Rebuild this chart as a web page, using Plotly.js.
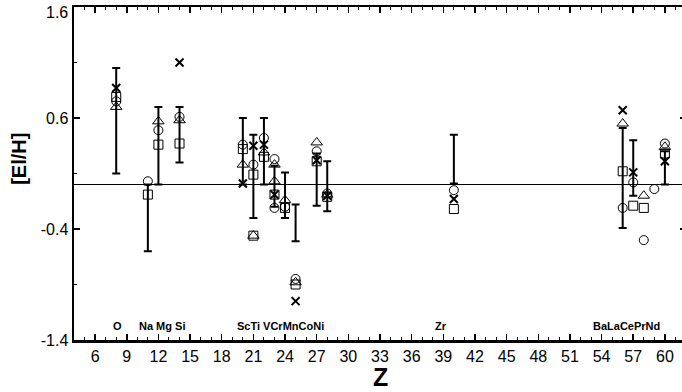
<!DOCTYPE html>
<html>
<head>
<meta charset="utf-8">
<script src="https://cdn.plot.ly/plotly-3.0.1.min.js"></script>
<style>
html,body{margin:0;padding:0;overflow:hidden;background:#fff;}
#chart{width:690px;height:392px;}
</style>
</head>
<body>
<div id="chart"></div>
<script>
// Circles
const circZ   = [8, 11, 12, 14, 20, 21, 22, 23, 23, 24, 25, 27, 28, 40, 56, 57, 58, 59, 60];
const circVal = [0.75, 0.03, 0.49, 0.61, 0.36, 0.18, 0.42, 0.23, -0.21, -0.20, -0.85, 0.30, -0.08, -0.05, -0.21, 0.02, -0.50, -0.04, 0.37];
// Squares
const sqZ   = [8, 11, 12, 14, 20, 21, 21, 22, 23, 24, 25, 27, 28, 40, 56, 57, 58, 60];
const sqVal = [0.79, -0.09, 0.36, 0.37, 0.32, 0.09, -0.46, 0.25, -0.09, -0.21, -0.90, 0.21, -0.11, -0.22, 0.12, -0.19, -0.21, 0.28];
// Triangles
const triZ   = [8, 12, 14, 20, 21, 22, 23, 23, 24, 25, 27, 28, 56, 58, 60];
const triVal = [0.70, 0.57, 0.58, 0.18, -0.46, 0.29, 0.18, 0.03, -0.14, -0.88, 0.38, -0.09, 0.55, -0.10, 0.34];
// Crosses
const crZ   = [8, 14, 20, 21, 22, 23, 25, 27, 28, 40, 56, 57, 60];
const crVal = [0.87, 1.10, 0.01, 0.35, 0.36, -0.09, -1.05, 0.22, -0.10, -0.13, 0.67, 0.11, 0.21];
// Error bars (low / high ends)
const errZ    = [8, 11, 12, 14, 20, 21, 22, 23, 24, 25, 27, 28, 40, 56, 57, 60];
const errLow  = [0.10, -0.60, 0.00, 0.20, 0.00, -0.30, 0.00, -0.20, -0.30, -0.51, -0.19, -0.24, 0.01, -0.39, -0.10, 0.00];
const errHigh = [1.05, 0.00, 0.70, 0.70, 0.60, 0.45, 0.60, 0.17, 0.11, -0.18, 0.28, 0.21, 0.45, 0.51, 0.40, 0.30];
// Element labels
const elemText = ['O', 'Na Mg Si', 'ScTi VCrMnCoNi', 'Zr', 'BaLaCePrNd'];
const elemZ    = [8.15, 12.3, 23.6, 38.8, 56.4];
const elemY    = -1.27;
// Axis ticks and titles
const xTicks = [6, 9, 12, 15, 18, 21, 24, 27, 30, 33, 36, 39, 42, 45, 48, 51, 54, 57, 60];
const yTicks = [1.6, 0.6, -0.4, -1.4];
const yTopLabel = '1.6';
const xTitle = 'Z';
const yTitle = '[El/H]';

const errMid = errLow.map((l, i) => (l + errHigh[i]) / 2);
const errHalf = errLow.map((l, i) => (errHigh[i] - l) / 2);

const FONT = 'Liberation Sans, Arial, Helvetica, sans-serif';
const mk = (sym, size, w) => ({symbol: sym, size: size, color: 'black', line: {color: 'black', width: w}});

const traces = [
  {x: errZ, y: errMid, type: 'scatter', mode: 'markers',
   marker: {size: 1, opacity: 0, color: 'black'},
   error_y: {type: 'data', array: errHalf, visible: true, color: 'black', thickness: 2, width: 4},
   hoverinfo: 'skip'},
  {x: circZ, y: circVal, type: 'scatter', mode: 'markers', marker: mk('circle-open', 9, 1)},
  {x: sqZ, y: sqVal, type: 'scatter', mode: 'markers', marker: mk('square-open', 9, 1)},
  {x: triZ, y: triVal, type: 'scatter', mode: 'markers', marker: mk('triangle-up-open', 10, 1)},
  {x: crZ, y: crVal, type: 'scatter', mode: 'markers', marker: mk('x-thin-open', 8, 2)}
];

const annotations = elemText.map((t, i) => ({
  x: elemZ[i], y: elemY, xref: 'x', yref: 'y', text: '<b>' + t + '</b>',
  showarrow: false, font: {family: FONT, size: 11, color: 'black'}
}));
annotations.push({
  xref: 'paper', yref: 'paper', x: -0.091, y: 0.545, xanchor: 'center', yanchor: 'middle',
  text: '<b>' + yTitle + '</b>', textangle: -90, showarrow: false,
  font: {family: FONT, size: 20, color: 'black'}
});
annotations.push({
  xref: 'paper', yref: 'paper', x: 0.5, y: -0.112, xanchor: 'center', yanchor: 'middle',
  text: '<b>' + xTitle + '</b>', showarrow: false, borderpad: 0,
  font: {family: FONT, size: 25, color: 'black'}
});
// top y tick label, nudged down so it stays inside the page as in the reference
annotations.push({
  xref: 'paper', yref: 'y', x: 0, y: yTicks[0], xanchor: 'right', yanchor: 'middle',
  xshift: -4, yshift: -5, text: yTopLabel, showarrow: false,
  font: {family: FONT, size: 16, color: 'black'}
});

const layout = {
  width: 690, height: 392,
  margin: {l: 74, r: 4, t: 7, b: 52},
  paper_bgcolor: 'white', plot_bgcolor: 'white',
  showlegend: false,
  font: {family: FONT, color: 'black'},
  xaxis: {
    range: [4, 62], tickvals: xTicks, ticktext: xTicks.map(String),
    ticks: 'inside', ticklen: 6, tickwidth: 1.5, tickcolor: 'black',
    minor: {dtick: 1, tick0: 0, ticks: 'inside', ticklen: 3, tickwidth: 1, tickcolor: 'black', showgrid: false},
    showline: true, linewidth: 2.5, linecolor: 'black', mirror: 'allticks',
    showgrid: false, zeroline: false, ticklabeloverflow: 'allow',
    tickfont: {family: FONT, size: 16, color: 'black'}
  },
  yaxis: {
    range: [-1.4, 1.6], tickvals: yTicks, ticktext: yTicks.map((v, i) => i === 0 ? '' : String(v)),
    ticks: 'inside', ticklen: 6, tickwidth: 1.5, tickcolor: 'black',
    minor: {dtick: 0.5, tick0: -1.4, ticks: 'inside', ticklen: 3, tickwidth: 1, tickcolor: 'black', showgrid: false},
    showline: true, linewidth: 2.5, linecolor: 'black', mirror: 'allticks',
    showgrid: false, zeroline: true, zerolinecolor: 'black', zerolinewidth: 1,
    ticklabeloverflow: 'allow',
    tickfont: {family: FONT, size: 16, color: 'black'}
  },
  annotations: annotations
};

Plotly.newPlot('chart', traces, layout, {displayModeBar: false, staticPlot: true});
</script>
</body>
</html>
